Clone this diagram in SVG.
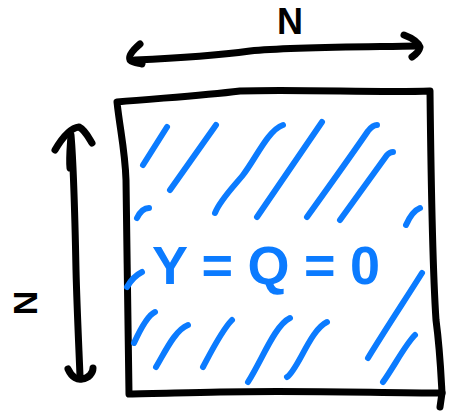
<svg xmlns="http://www.w3.org/2000/svg" width="450" height="414" viewBox="0 0 450 414">
<style>
.k{fill:none;stroke:#000;stroke-width:7;stroke-linecap:round;stroke-linejoin:round}
.b{fill:none;stroke:#0b7bff;stroke-width:6;stroke-linecap:round;stroke-linejoin:round}
.t{font-family:"Liberation Sans",Arial,sans-serif;font-weight:bold}
</style>
<rect width="450" height="414" fill="#fff"/>
<g id="square">
<path class="k" d="M117,102 C160,98 200,96 240,91 C300,89 380,93 430,91 C431,180 432,260 436,320 C440,350 441,375 442,393 C380,393 300,390 220,392 C180,393 150,393 129,394 C128,330 127,250 126,180 C125,150 120,130 117,102 Z"/>
<path class="k" d="M442,393 L440,407"/>
</g>
<g id="hatching">
<path class="b" d="M143,165 L167,127"/>
<path class="b" d="M170,190 L216,125"/>
<path class="b" d="M215,213 C220,200 235,185 243,175 C255,160 268,130 283,125"/>
<path class="b" d="M257,217 L322,122"/>
<path class="b" d="M307,217 C330,185 355,150 368,131 C372,126 375,125 377,125"/>
<path class="b" d="M340,220 L387,155 C389,153 391,152 393,152"/>
<path class="b" d="M137,218 C140,212 144,208 149,208"/>
<path class="b" d="M406,225 C410,216 415,210 420,208"/>
<path class="b" d="M127,287 C131,280 136,275 142,272"/>
<path class="b" d="M134,343 C140,330 148,315 155,312"/>
<path class="b" d="M156,367 C165,352 175,330 188,325"/>
<path class="b" d="M203,367 C212,350 222,330 232,320"/>
<path class="b" d="M248,382 C262,360 275,325 290,318"/>
<path class="b" d="M287,377 C298,370 310,330 327,322"/>
<path class="b" d="M368,358 C385,330 405,300 422,273"/>
<path class="b" d="M383,382 C395,365 405,345 415,335"/>
</g>
<g id="label">
<text class="t" x="152" y="284" font-size="54" fill="#0b7bff" textLength="228" lengthAdjust="spacing">Y = Q = 0</text>
</g>
<g id="connectors">
<path class="k" d="M135,60 C180,58 220,55 250,51 C290,47 360,47 418,46"/>
<path class="k" d="M140,44 C133,50 128,56 130,60 C133,63 138,63 142,64"/>
<path class="k" d="M404,35 C412,38 418,42 420,47 C419,52 415,55 412,57"/>
<path class="k" d="M70,168 C69,160 70,150 71,135 C74,170 75,220 76,270 C77,310 79,350 80,376"/>
<path class="k" d="M55,150 C62,138 70,128 79,127 C85,130 89,138 92,143"/>
<path class="k" d="M68,369 C72,378 78,380 82,379 C89,378 93,373 93,368"/>
</g>
<g id="dims">
<text class="t" x="290" y="34" font-size="36" text-anchor="middle">N</text>
<text class="t" x="0" y="0" font-size="34" text-anchor="middle" transform="translate(37,303) rotate(-90)">N</text>
</g>
</svg>
